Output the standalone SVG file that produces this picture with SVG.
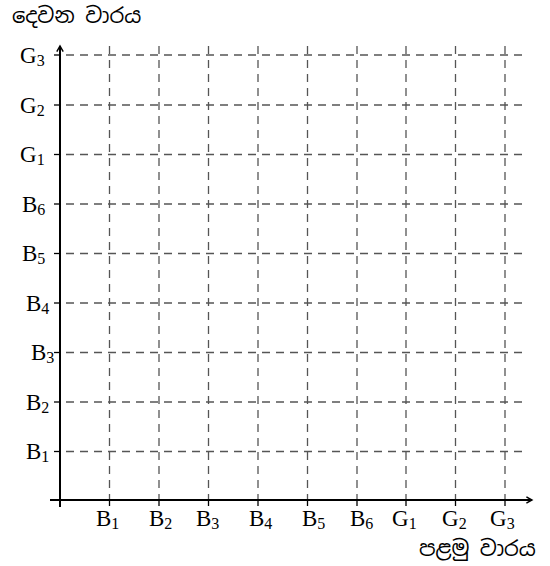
<svg xmlns="http://www.w3.org/2000/svg" width="550" height="566" viewBox="0 0 550 566">
<defs>
<style>
.grid{stroke:#555;stroke-width:1.3;stroke-dasharray:8 6;fill:none}
.axis{stroke:#000;stroke-width:2;fill:none}
.tick{stroke:#000;stroke-width:1.3}
.lbl{font-family:"Liberation Serif","Times New Roman",serif;font-size:23px;fill:#000}
.sub{font-size:16px}
.si{font-family:"Noto Sans Sinhala","Noto Serif Sinhala","Noto Sans",sans-serif;font-size:21px;fill:#000}
</style>
<marker id="arr" viewBox="0 0 10 10" refX="8" refY="5" markerWidth="8" markerHeight="8" markerUnits="userSpaceOnUse" orient="auto">
<path d="M1,1 L8,5 L1,9" fill="none" stroke="#000" stroke-width="1.8"/>
</marker>
</defs>
<rect width="550" height="566" fill="#fff"/>
<g id="connectors">
<g id="grid-h">
<line class="grid" x1="66" y1="55" x2="522" y2="55"/>
<line class="grid" x1="66" y1="105" x2="522" y2="105"/>
<line class="grid" x1="66" y1="154.5" x2="522" y2="154.5"/>
<line class="grid" x1="66" y1="204" x2="522" y2="204"/>
<line class="grid" x1="66" y1="253.5" x2="522" y2="253.5"/>
<line class="grid" x1="66" y1="303" x2="522" y2="303"/>
<line class="grid" x1="66" y1="352.5" x2="522" y2="352.5"/>
<line class="grid" x1="66" y1="402" x2="522" y2="402"/>
<line class="grid" x1="66" y1="451.5" x2="522" y2="451.5"/>
</g>
<g id="grid-v">
<line class="grid" x1="109.5" y1="46" x2="109.5" y2="500"/>
<line class="grid" x1="159" y1="46" x2="159" y2="500"/>
<line class="grid" x1="208.5" y1="46" x2="208.5" y2="500"/>
<line class="grid" x1="258" y1="46" x2="258" y2="500"/>
<line class="grid" x1="307.5" y1="46" x2="307.5" y2="500"/>
<line class="grid" x1="357" y1="46" x2="357" y2="500"/>
<line class="grid" x1="406" y1="46" x2="406" y2="500"/>
<line class="grid" x1="455.5" y1="46" x2="455.5" y2="500"/>
<line class="grid" x1="505" y1="46" x2="505" y2="500"/>
</g>
<g id="ticks">
<line class="tick" x1="54" y1="55" x2="60" y2="55"/>
<line class="tick" x1="54" y1="105" x2="60" y2="105"/>
<line class="tick" x1="54" y1="154.5" x2="60" y2="154.5"/>
<line class="tick" x1="54" y1="204" x2="60" y2="204"/>
<line class="tick" x1="54" y1="253.5" x2="60" y2="253.5"/>
<line class="tick" x1="54" y1="303" x2="60" y2="303"/>
<line class="tick" x1="54" y1="352.5" x2="60" y2="352.5"/>
<line class="tick" x1="54" y1="402" x2="60" y2="402"/>
<line class="tick" x1="54" y1="451.5" x2="60" y2="451.5"/>
<line class="tick" x1="109.5" y1="500" x2="109.5" y2="506"/>
<line class="tick" x1="159" y1="500" x2="159" y2="506"/>
<line class="tick" x1="208.5" y1="500" x2="208.5" y2="506"/>
<line class="tick" x1="258" y1="500" x2="258" y2="506"/>
<line class="tick" x1="307.5" y1="500" x2="307.5" y2="506"/>
<line class="tick" x1="357" y1="500" x2="357" y2="506"/>
<line class="tick" x1="406" y1="500" x2="406" y2="506"/>
<line class="tick" x1="455.5" y1="500" x2="455.5" y2="506"/>
<line class="tick" x1="505" y1="500" x2="505" y2="506"/>
</g>
<line id="y-axis" class="axis" x1="60" y1="507" x2="60" y2="46" marker-end="url(#arr)"/>
<line id="x-axis" class="axis" x1="50" y1="500" x2="532" y2="500" marker-end="url(#arr)"/>
</g>
<g id="y-labels" class="lbl">
<text id="yG3" x="20" y="63">G<tspan class="sub" dy="3">3</tspan></text>
<text id="yG2" x="20" y="113">G<tspan class="sub" dy="3">2</tspan></text>
<text id="yG1" x="20" y="162">G<tspan class="sub" dy="3">1</tspan></text>
<text id="yB6" x="22" y="212">B<tspan class="sub" dy="3">6</tspan></text>
<text id="yB5" x="22" y="261">B<tspan class="sub" dy="3">5</tspan></text>
<text id="yB4" x="26" y="311">B<tspan class="sub" dy="3">4</tspan></text>
<text id="yB3" x="31" y="360">B<tspan class="sub" dy="3">3</tspan></text>
<text id="yB2" x="26" y="410">B<tspan class="sub" dy="3">2</tspan></text>
<text id="yB1" x="26" y="459">B<tspan class="sub" dy="3">1</tspan></text>
</g>
<g id="x-labels" class="lbl">
<text id="xB1" x="96" y="526">B<tspan class="sub" dy="3">1</tspan></text>
<text id="xB2" x="149" y="526">B<tspan class="sub" dy="3">2</tspan></text>
<text id="xB3" x="196" y="526">B<tspan class="sub" dy="3">3</tspan></text>
<text id="xB4" x="249" y="526">B<tspan class="sub" dy="3">4</tspan></text>
<text id="xB5" x="302" y="526">B<tspan class="sub" dy="3">5</tspan></text>
<text id="xB6" x="350" y="526">B<tspan class="sub" dy="3">6</tspan></text>
<text id="xG1" x="392" y="526">G<tspan class="sub" dy="3">1</tspan></text>
<text id="xG2" x="442" y="526">G<tspan class="sub" dy="3">2</tspan></text>
<text id="xG3" x="490" y="526">G<tspan class="sub" dy="3">3</tspan></text>
</g>
<text id="y-title" class="si" x="12" y="23">දෙවන වාරය</text>
<text id="x-title" class="si" x="419" y="556">පළමු වාරය</text>
</svg>
